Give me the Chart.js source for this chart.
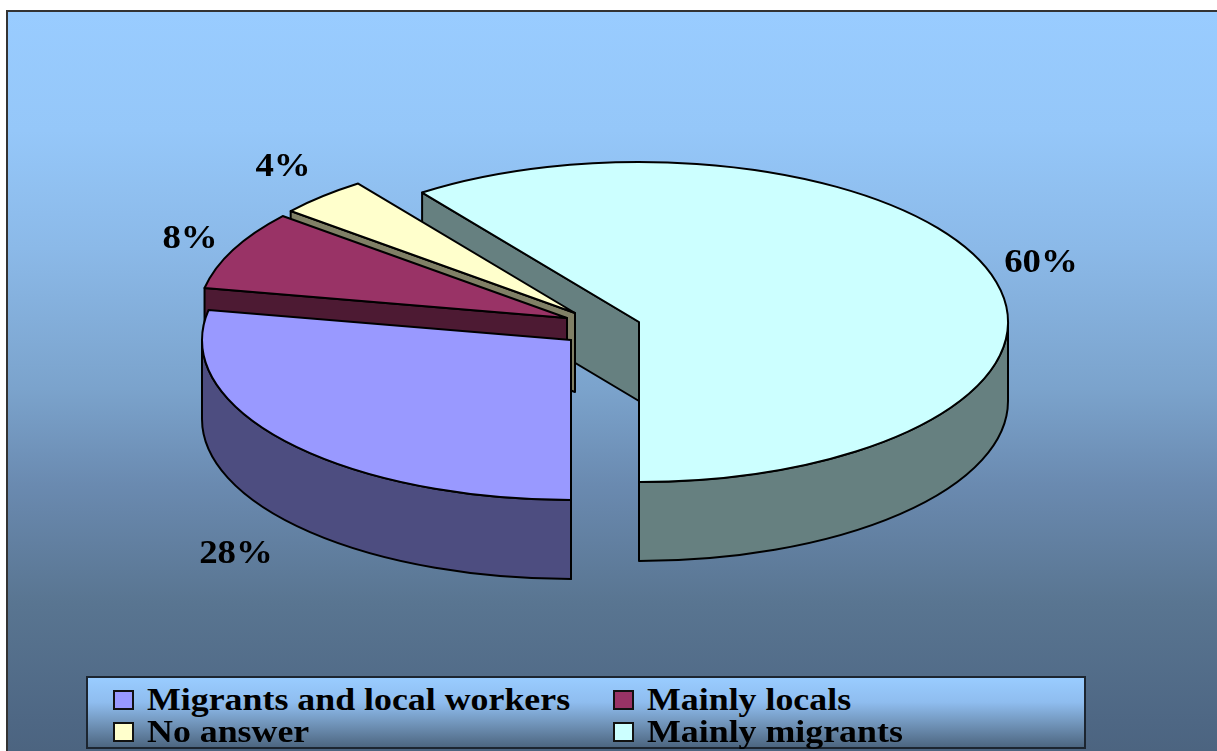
<!DOCTYPE html>
<html>
<head>
<meta charset="utf-8">
<script src="https://cdn.jsdelivr.net/npm/chart.js@4"></script>
<style>
  html, body { margin: 0; padding: 0; background: #fff; overflow: hidden; }
  #wrap { position: relative; width: 1217px; height: 751px; filter: blur(0.55px); }
  #frame {
    position: absolute; left: 6px; top: 10px; right: 0; bottom: 0;
    border-left: 2px solid #333; border-top: 2px solid #333;
    background: linear-gradient(#99ccff 0, #95c7f9 16%, #8bb9e8 32%, #7ba3cc 51%, #6a8ab0 64%, #597591 80%, #4e6784 96%, #4c6480 100%);
  }
  canvas { position: absolute; left: 0; top: 0; }
  #legend {
    position: absolute; left: 86px; top: 676px; width: 996px; height: 69px;
    border: 2px solid #1c2530;
    background: linear-gradient(#99ccff 0, #8fbdef 35%, #7296bc 65%, #4d6680 100%);
    font: bold 32px "Liberation Serif", serif; color: #000;
  }
  .item { position: absolute; white-space: nowrap; line-height: 32px; transform-origin: left center; transform: scaleX(1.12); }
  .swatch { position: absolute; width: 17px; height: 16px; border: 2px solid #111; }
</style>
</head>
<body>
<div id="wrap">
  <div id="frame"></div>
  <canvas id="pie" width="1217" height="751"></canvas>
  <div id="legend"></div>
</div>
<script>
const categories = ['Migrants and local workers', 'Mainly locals', 'No answer', 'Mainly migrants'];
const shares = [28, 8, 4, 60];
const pctLabels = ['28%', '8%', '4%', '60%'];

const topColors = ['#9999ff', '#993366', '#ffffcc', '#ccffff'];
const sideColors = ['#4d4d80', '#4d1a33', '#808066', '#668080'];

// where each exploded slice has its apex on the page, and where its label sits
const apex = [[571, 340], [567, 318], [575, 313], [639, 322]];
const labelAt = [[236, 554], [190, 239], [283, 167], [1041, 263]];
const squash = 160 / 369;
const depth = 79;
const paintOrder = [3, 2, 1, 0];

function point(p, r, a) {
    return [p[0] + r * Math.cos(a), p[1] + squash * r * Math.sin(a)];
}

function drawSide(ctx, p, r, a, color) {
    const o = point(p, r, a);
    ctx.beginPath();
    ctx.moveTo(p[0], p[1]);
    ctx.lineTo(o[0], o[1]);
    ctx.lineTo(o[0], o[1] + depth);
    ctx.lineTo(p[0], p[1] + depth);
    ctx.closePath();
    ctx.fillStyle = color;
    ctx.fill();
    ctx.stroke();
}

function drawRim(ctx, p, r, start, end, color) {
    // only the lower half of the ellipse shows a wall
    [0, Math.PI * 2].forEach(base => {
        const a0 = Math.max(start, base);
        const a1 = Math.min(end, base + Math.PI);
        if (a1 <= a0) return;
        ctx.beginPath();
        ctx.ellipse(p[0], p[1], r, r * squash, 0, a0, a1);
        ctx.ellipse(p[0], p[1] + depth, r, r * squash, 0, a1, a0, true);
        ctx.closePath();
        ctx.fillStyle = color;
        ctx.fill();
        ctx.stroke();
    });
}

const pie3d = {
    id: 'pie3d',
    beforeDatasetDraw(chart) {
        const ctx = chart.ctx;
        const arcs = chart.getDatasetMeta(0).data;
        ctx.save();
        ctx.strokeStyle = '#000';
        ctx.lineWidth = 2;
        ctx.lineJoin = 'round';
        paintOrder.forEach(i => {
            const arc = arcs[i];
            const p = apex[i];
            const r = arc.outerRadius;
            drawSide(ctx, p, r, arc.startAngle, sideColors[i]);
            drawRim(ctx, p, r, arc.startAngle, arc.endAngle, sideColors[i]);

            ctx.save();
            ctx.translate(p[0], p[1]);
            ctx.scale(1, squash);
            ctx.translate(-arc.x, -arc.y);
            arc.draw(ctx);
            ctx.restore();

            ctx.beginPath();
            ctx.moveTo(p[0], p[1]);
            ctx.ellipse(p[0], p[1], r, r * squash, 0, arc.startAngle, arc.endAngle);
            ctx.closePath();
            ctx.stroke();
        });
        ctx.restore();
        return false;
    },
    afterDatasetsDraw(chart) {
        const ctx = chart.ctx;
        ctx.save();
        ctx.font = 'bold 33px "Liberation Serif", serif';
        ctx.textAlign = 'center';
        ctx.textBaseline = 'middle';
        ctx.fillStyle = '#000';
        pctLabels.forEach((t, i) => {
            ctx.save();
            ctx.translate(labelAt[i][0], labelAt[i][1]);
            ctx.scale(1.115, 1);
            ctx.fillText(t, 0, 0);
            ctx.restore();
        });
        ctx.restore();
    }
};

new Chart(document.getElementById('pie'), {
    type: 'pie',
    data: {
        labels: categories,
        datasets: [{ data: shares, backgroundColor: topColors, borderWidth: 0 }]
    },
    options: {
        responsive: false,
        animation: false,
        rotation: 180,
        radius: 369,
        layout: { padding: 0 },
        events: [],
        plugins: { legend: { display: false }, tooltip: { enabled: false } }
    },
    plugins: [pie3d]
});

// legend: two columns, two rows, same order as the slices
const legend = document.getElementById('legend');
const cols = [25, 525];
const rows = [5, 37];
categories.forEach((name, i) => {
    const col = cols[i % 2], row = rows[Math.floor(i / 2)];
    const sw = document.createElement('div');
    sw.className = 'swatch';
    sw.style.left = col + 'px';
    sw.style.top = (row + 7) + 'px';
    sw.style.background = topColors[i];
    legend.appendChild(sw);
    const t = document.createElement('div');
    t.className = 'item';
    t.textContent = name;
    t.style.left = (col + 34) + 'px';
    t.style.top = row + 'px';
    legend.appendChild(t);
});
</script>
</body>
</html>
